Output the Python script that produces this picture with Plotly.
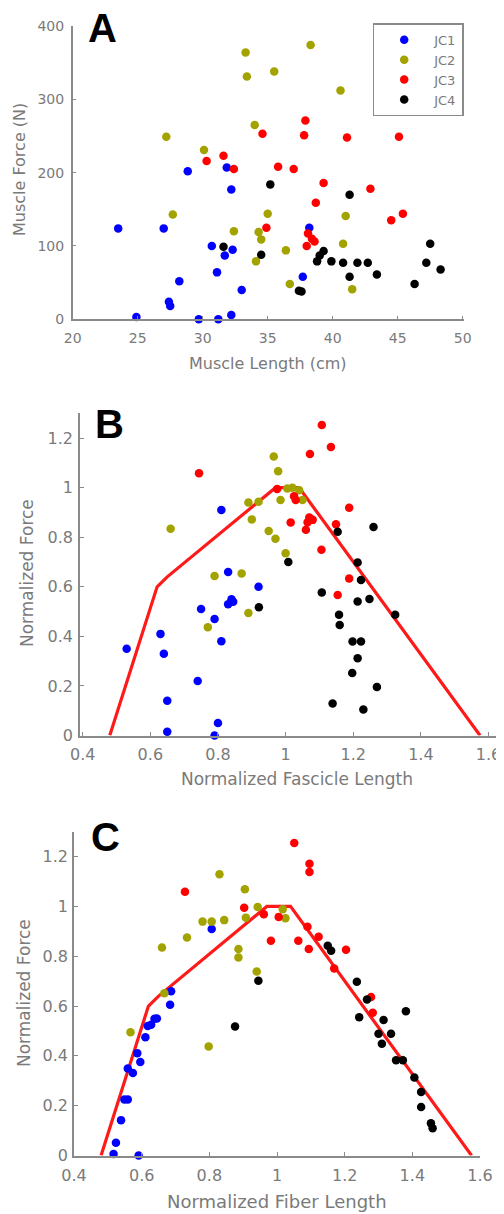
import plotly.graph_objects as go

# page body has an 8px margin, so the figure covers page pixels 8..504 x 8..1214
OFF = 8
W, H = 504 - OFF, 1214 - OFF

# ---------------- Panel A data (Muscle Length cm, Muscle Force N) ----------------
a_jc1_x = [23.5, 27.0, 28.85, 31.85, 32.2, 38.2, 30.7, 31.7, 32.3, 31.1, 28.2, 33.0, 37.7, 27.4, 27.5, 24.9, 29.7, 31.2, 32.2]
a_jc1_y = [124, 124, 202, 207, 177, 125, 100, 87, 95, 64, 52, 40, 58, 24, 18, 3, 0, 0, 6]
a_jc2_x = [33.3, 38.3, 33.4, 35.5, 40.6, 34.0, 27.2, 30.1, 27.7, 35.0, 41.0, 32.4, 34.3, 34.5, 36.4, 40.8, 34.1, 36.7, 41.5]
a_jc2_y = [364, 374, 331, 338, 312, 265, 249, 231, 143, 144, 141, 120, 119, 109, 94, 103, 79, 48, 41]
a_jc3_x = [37.9, 34.6, 37.8, 41.1, 45.1, 31.6, 30.3, 32.4, 35.8, 37.0, 39.3, 42.9, 38.7, 44.5, 45.4, 34.9, 38.1, 38.4, 38.6, 38.0]
a_jc3_y = [271, 253, 251, 248, 249, 223, 216, 205, 208, 205, 186, 178, 159, 135, 144, 125, 117, 110, 106, 100]
a_jc4_x = [35.2, 41.3, 31.6, 34.5, 47.5, 39.0, 39.3, 38.8, 39.9, 40.8, 41.9, 42.7, 47.2, 48.3, 41.3, 43.4, 46.3, 37.6, 37.4]
a_jc4_y = [184, 170, 99, 88, 103, 87, 93, 79, 79, 77, 77, 77, 77, 68, 58, 61, 48, 38, 39]

# ---------------- Panel B data (Normalized Fascicle Length, Normalized Force) ----------------
b_jc1_x = [0.81, 0.83, 0.92, 0.75, 0.79, 0.83, 0.84, 0.845, 0.81, 0.53, 0.63, 0.64, 0.74, 0.65, 0.65, 0.80, 0.79]
b_jc1_y = [0.91, 0.66, 0.60, 0.51, 0.47, 0.53, 0.55, 0.54, 0.38, 0.35, 0.41, 0.33, 0.22, 0.14, 0.015, 0.05, 0.0]
b_jc2_x = [0.965, 0.978, 1.005, 1.04, 0.985, 1.05, 0.89, 0.92, 0.90, 0.66, 0.95, 0.97, 1.0, 0.79, 0.87, 0.77, 0.89, 1.02]
b_jc2_y = [1.126, 1.066, 0.997, 0.99, 0.95, 0.95, 0.94, 0.943, 0.872, 0.834, 0.825, 0.794, 0.735, 0.644, 0.654, 0.437, 0.494, 1.0]
b_jc3_x = [1.107, 1.134, 1.072, 0.744, 1.188, 1.015, 0.975, 1.025, 1.03, 1.07, 1.065, 1.06, 1.08, 1.149, 1.106, 1.188, 1.154]
b_jc3_y = [1.253, 1.164, 1.136, 1.058, 0.919, 0.859, 0.995, 0.965, 0.95, 0.88, 0.86, 0.83, 0.87, 0.852, 0.749, 0.633, 0.567]
b_jc4_x = [1.008, 1.154, 1.26, 1.213, 1.223, 1.107, 0.921, 1.213, 1.248, 1.158, 1.16, 1.198, 1.223, 1.213, 1.197, 1.27, 1.139, 1.23, 1.324]
b_jc4_y = [0.70, 0.822, 0.841, 0.698, 0.627, 0.577, 0.517, 0.541, 0.551, 0.487, 0.446, 0.379, 0.379, 0.312, 0.252, 0.196, 0.129, 0.105, 0.487]

# ---------------- Panel C data (Normalized Fiber Length, Normalized Force) ----------------
c_jc1_x = [0.807, 0.687, 0.684, 0.638, 0.628, 0.618, 0.611, 0.587, 0.596, 0.559, 0.574, 0.549, 0.559, 0.539, 0.524, 0.517, 0.591, 0.645]
c_jc1_y = [0.909, 0.659, 0.605, 0.549, 0.525, 0.52, 0.475, 0.411, 0.375, 0.349, 0.331, 0.225, 0.225, 0.142, 0.051, 0.006, 0.0, 0.55]
c_jc2_x = [0.83, 0.905, 0.943, 0.908, 1.017, 1.025, 0.78, 0.807, 0.844, 0.734, 0.66, 0.886, 0.886, 0.94, 0.667, 0.567, 0.798]
c_jc2_y = [1.129, 1.069, 0.998, 0.955, 0.989, 0.953, 0.939, 0.939, 0.945, 0.875, 0.835, 0.829, 0.795, 0.739, 0.651, 0.495, 0.438]
c_jc3_x = [1.051, 1.096, 1.096, 0.728, 0.903, 0.961, 1.005, 0.982, 1.063, 1.09, 1.094, 1.123, 1.204, 1.169, 1.278, 1.283]
c_jc3_y = [1.255, 1.171, 1.138, 1.059, 0.995, 0.969, 0.958, 0.862, 0.862, 0.918, 0.829, 0.878, 0.826, 0.751, 0.636, 0.573]
c_jc4_x = [0.945, 1.15, 1.16, 1.236, 1.266, 1.381, 1.243, 1.315, 0.876, 1.30, 1.337, 1.31, 1.352, 1.372, 1.406, 1.426, 1.426, 1.455, 1.46]
c_jc4_y = [0.702, 0.842, 0.822, 0.698, 0.626, 0.579, 0.555, 0.544, 0.518, 0.489, 0.489, 0.449, 0.382, 0.382, 0.313, 0.255, 0.195, 0.129, 0.109]

# ---------------- Force-length curve ----------------
curve_x = [0.48, 0.62, 0.65, 0.97, 1.04, 1.575]
curve_y = [0.0, 0.6, 0.64, 1.0, 1.0, 0.0]

group_names = ["JC1", "JC2", "JC3", "JC4"]
group_colors = ["#0000ff", "#a3a300", "#ff0000", "#000000"]

a_sets = [(a_jc1_x, a_jc1_y), (a_jc2_x, a_jc2_y), (a_jc3_x, a_jc3_y), (a_jc4_x, a_jc4_y)]
b_sets = [(b_jc1_x, b_jc1_y), (b_jc2_x, b_jc2_y), (b_jc3_x, b_jc3_y), (b_jc4_x, b_jc4_y)]
c_sets = [(c_jc1_x, c_jc1_y), (c_jc2_x, c_jc2_y), (c_jc3_x, c_jc3_y), (c_jc4_x, c_jc4_y)]

fig = go.Figure()

# curves first (under dots)
for xa, ya in [("x2", "y2"), ("x3", "y3")]:
    fig.add_trace(go.Scatter(x=curve_x, y=curve_y, mode="lines", xaxis=xa, yaxis=ya,
                             line=dict(color="#ff1a1a", width=3.2), showlegend=False,
                             cliponaxis=False, hoverinfo="skip"))

for panel, sets, xa, ya in [("A", a_sets, "x", "y"), ("B", b_sets, "x2", "y2"), ("C", c_sets, "x3", "y3")]:
    for (xs, ys), name, col in zip(sets, group_names, group_colors):
        fig.add_trace(go.Scatter(x=xs, y=ys, mode="markers", name=name, legendgroup=name,
                                 showlegend=(panel == "A"), xaxis=xa, yaxis=ya,
                                 marker=dict(color=col, size=8.5, line=dict(width=0)),
                                 cliponaxis=False))

grey = "#8a8a8a"
txt_grey = "#7a7a7a"
font_a_tick = dict(family="DejaVu Sans", size=14, color=txt_grey)
font_bc_tick = dict(family="DejaVu Sans", size=16, color=txt_grey)
font_a_title = dict(family="DejaVu Sans", size=16, color=txt_grey)
font_b_title = dict(family="DejaVu Sans", size=17, color=txt_grey)
font_c_title = dict(family="DejaVu Sans", size=18, color=txt_grey)


def ax(**kw):
    d = dict(showline=True, linecolor=grey, linewidth=1.5, ticks="inside", ticklen=4,
             tickcolor=grey, tickwidth=1, showgrid=False, zeroline=False,
             mirror=False, fixedrange=True, automargin=False)
    d.update(kw)
    return d


def px_x(p):
    return (p - OFF) / W


def px_y(p):
    return 1 - (p - OFF) / H


norm_ticks = [0.4, 0.6, 0.8, 1.0, 1.2, 1.4, 1.6]
norm_text = ["0.4", "0.6", "0.8", "1", "1.2", "1.4", "1.6"]
force_ticks = [0, 0.2, 0.4, 0.6, 0.8, 1.0, 1.2]
force_text = ["0", "0.2", "0.4", "0.6", "0.8", "1", "1.2"]

fig.update_layout(
    width=W, height=H, margin=dict(l=0, r=0, t=0, b=0),
    paper_bgcolor="white", plot_bgcolor="white",
    xaxis=ax(domain=[px_x(72.7), px_x(464)], range=[20, 50.1], tickvals=[20, 25, 30, 35, 40, 45, 50],
             anchor="y", ticklabelstandoff=5, tickfont=font_a_tick),
    yaxis=ax(domain=[px_y(319.3), px_y(26)], range=[0, 400], tickvals=[0, 100, 200, 300, 400],
             anchor="x", ticklabelstandoff=4, tickfont=font_a_tick),
    xaxis2=ax(domain=[px_x(80), px_x(500)], range=[0.392, 1.634], tickvals=norm_ticks, ticktext=norm_text,
              anchor="y2", ticklabelstandoff=4, tickfont=font_bc_tick),
    yaxis2=ax(domain=[px_y(735.5), px_y(413.3)], range=[0, 1.3], tickvals=force_ticks, ticktext=force_text,
              anchor="x2", ticklabelstandoff=2, tickfont=font_bc_tick),
    xaxis3=ax(domain=[px_x(74), px_x(480)], range=[0.4, 1.6], tickvals=norm_ticks, ticktext=norm_text,
              anchor="y3", ticklabelstandoff=5, tickfont=font_bc_tick),
    yaxis3=ax(domain=[px_y(1155.5), px_y(831.7)], range=[0, 1.3], tickvals=force_ticks, ticktext=force_text,
              anchor="x3", ticklabelstandoff=1, tickfont=font_bc_tick),
    legend=dict(x=px_x(372.7), xanchor="left", y=px_y(23.3), yanchor="top",
                bordercolor=grey, borderwidth=1.5, bgcolor="white",
                font=dict(family="DejaVu Sans", size=13, color=txt_grey),
                tracegroupgap=0, itemwidth=50),
    showlegend=True,
)

letter_font = dict(family="Liberation Sans", size=40, color="black")
annots = [
    # panel letters
    dict(text="<b>A</b>", x=px_x(102), y=px_y(28), font=letter_font),
    dict(text="<b>B</b>", x=px_x(109), y=px_y(424), font=letter_font),
    dict(text="<b>C</b>", x=px_x(105), y=px_y(837), font=letter_font),
    # axis titles
    dict(text="Muscle Length (cm)", x=px_x(268), y=px_y(363), font=font_a_title),
    dict(text="Muscle Force (N)", x=px_x(20), y=px_y(170), font=font_a_title, textangle=-90),
    dict(text="Normalized Fascicle Length", x=px_x(297), y=px_y(779), font=font_b_title),
    dict(text="Normalized Force", x=px_x(27), y=px_y(573), font=font_b_title, textangle=-90),
    dict(text="Normalized Fiber Length", x=px_x(277), y=px_y(1201), font=font_c_title),
    dict(text="Normalized Force", x=px_x(24), y=px_y(993), font=font_b_title, textangle=-90),
]
for a in annots:
    a.update(xref="paper", yref="paper", showarrow=False, xanchor="center", yanchor="middle")
fig.update_layout(annotations=annots)

fig.write_html("out.html")
